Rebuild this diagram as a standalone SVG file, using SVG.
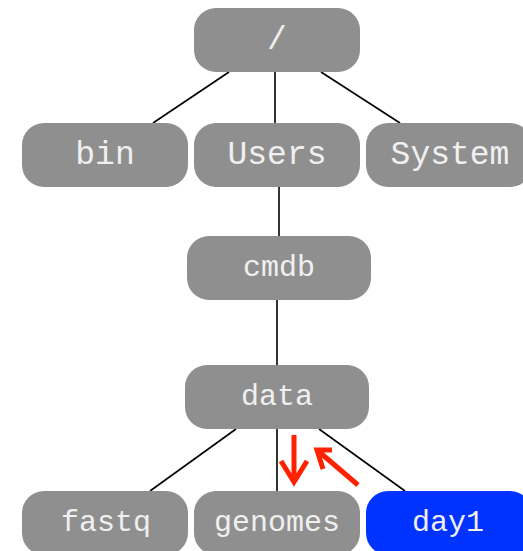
<svg xmlns="http://www.w3.org/2000/svg" width="523" height="551" viewBox="0 0 523 551">
<style>
.n rect{fill:#8f8f8f}
.n text{font-family:"Liberation Mono","Courier New",monospace;font-size:30px;fill:#f0f0f0;text-anchor:middle}
.n text.big{font-size:33px}
.hl rect{fill:#0033ff}
.c line{stroke:#000;stroke-width:1.6}
.r{stroke:#ff2200;stroke-width:5;fill:none;stroke-linecap:butt;stroke-linejoin:miter}
</style>
<rect width="523" height="551" fill="#fff"/>
<g class="c" id="connectors">
<line x1="229" y1="72" x2="153" y2="123"/>
<line x1="275" y1="72" x2="275" y2="123"/>
<line x1="321" y1="72" x2="400" y2="123"/>
<line x1="279" y1="187" x2="279" y2="236"/>
<line x1="277" y1="300" x2="277" y2="365"/>
<line x1="236" y1="429" x2="150" y2="491"/>
<line x1="277" y1="429" x2="277" y2="491"/>
<line x1="319" y1="429" x2="405" y2="491"/>
</g>
<g id="root" class="n"><rect x="194" y="8" width="166" height="64" rx="22"/><text class="big" x="277" y="49">/</text></g>
<g id="bin" class="n"><rect x="22" y="123" width="166" height="64" rx="22"/><text class="big" x="105" y="164">bin</text></g>
<g id="Users" class="n"><rect x="194" y="123" width="166" height="64" rx="22"/><text class="big" x="277" y="164">Users</text></g>
<g id="System" class="n"><rect x="366" y="123" width="166" height="64" rx="22"/><text class="big" x="450" y="164">System</text></g>
<g id="cmdb" class="n"><rect x="187" y="236" width="184" height="64" rx="22"/><text x="279" y="276" textLength="72" lengthAdjust="spacingAndGlyphs">cmdb</text></g>
<g id="data" class="n"><rect x="185" y="365" width="184" height="64" rx="22"/><text x="277" y="405">data</text></g>
<g id="fastq" class="n"><rect x="22" y="491" width="166" height="64" rx="22"/><text x="106" y="531">fastq</text></g>
<g id="genomes" class="n"><rect x="194" y="491" width="166" height="64" rx="22"/><text x="277" y="531">genomes</text></g>
<g id="day1" class="n hl"><rect x="366" y="491" width="166" height="64" rx="22"/><text x="448" y="531">day1</text></g>
<g id="arrows">
<path class="r" d="M294 435 V482 M281 461 L294 482 L307 461"/>
<path class="r" d="M358 485 L317 450 M332 450 L317 450 L323 469"/>
</g>
</svg>
